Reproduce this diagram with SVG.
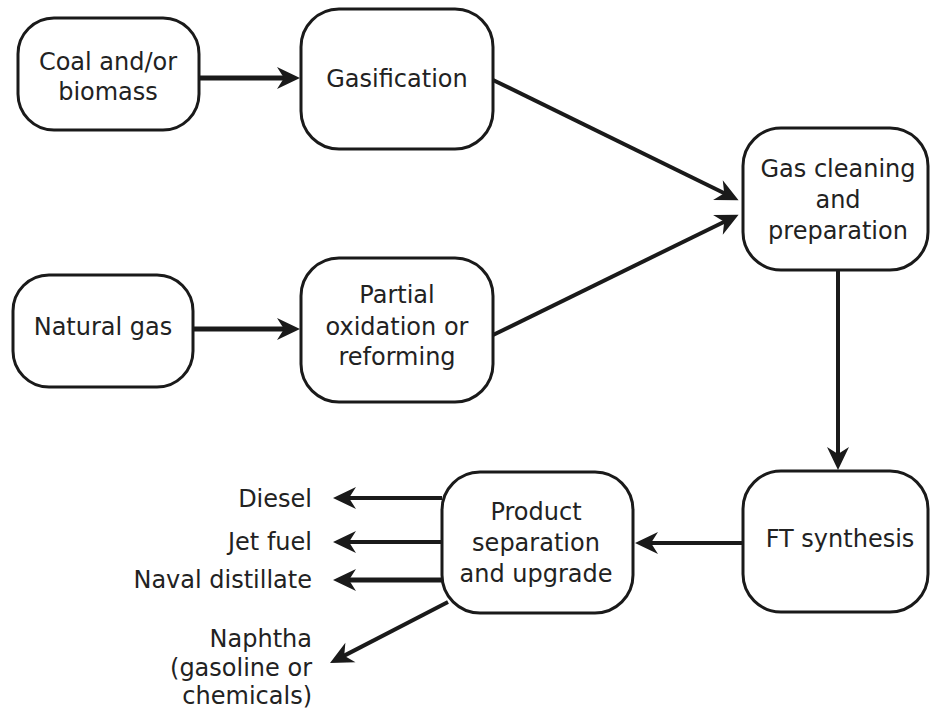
<svg xmlns="http://www.w3.org/2000/svg" width="930" height="715" viewBox="0 0 930 715">
<style>
.box{fill:#fff;stroke:#1a1a1a;stroke-width:3}
.t{font-family:"DejaVu Sans","Noto Sans",sans-serif;font-size:24px;fill:#222;text-anchor:middle}
.r{text-anchor:end}
.c{fill:none;stroke:#1a1a1a;stroke-width:4}
.thick{stroke-width:5}
</style>
<defs>
<marker id="ah" markerUnits="userSpaceOnUse" markerWidth="40" markerHeight="40" viewBox="-20 -15 40 30" refX="0" refY="0" orient="auto">
<path d="M9,0 L-14,-11 L-7,0 L-14,11 Z" fill="#1a1a1a"/>
</marker>
</defs>
<rect width="930" height="715" fill="#fff"/>
<g id="connectors">
<line class="c thick" x1="199" y1="78" x2="291" y2="78" marker-end="url(#ah)"/>
<line class="c thick" x1="193" y1="329" x2="291" y2="329" marker-end="url(#ah)"/>
<line class="c" x1="493" y1="80" x2="730.5" y2="196.3" marker-end="url(#ah)"/>
<line class="c" x1="493" y1="335" x2="730.5" y2="218.7" marker-end="url(#ah)"/>
<line class="c" x1="838" y1="270" x2="838" y2="461" marker-end="url(#ah)"/>
<line class="c" x1="743" y1="543" x2="644" y2="543" marker-end="url(#ah)"/>
<line class="c" x1="442" y1="498" x2="342" y2="498" marker-end="url(#ah)"/>
<line class="c" x1="442" y1="542" x2="342" y2="542" marker-end="url(#ah)"/>
<line class="c thick" x1="442" y1="580" x2="342" y2="580" marker-end="url(#ah)"/>
<line class="c" x1="448" y1="602" x2="338" y2="658.9" marker-end="url(#ah)"/>
</g>
<g id="coal">
<rect class="box" x="18" y="18" width="181" height="112" rx="36"/>
<text class="t" x="108" y="70">Coal and/or</text>
<text class="t" x="108" y="100">biomass</text>
</g>
<g id="gasification">
<rect class="box" x="301" y="9" width="192" height="140" rx="38"/>
<text class="t" x="397" y="87">Gasification</text>
</g>
<g id="natural-gas">
<rect class="box" x="13" y="275" width="180" height="112" rx="36"/>
<text class="t" x="103" y="335">Natural gas</text>
</g>
<g id="partial">
<rect class="box" x="301" y="258" width="192" height="144" rx="38"/>
<text class="t" x="397" y="303">Partial</text>
<text class="t" x="397" y="335">oxidation or</text>
<text class="t" x="397" y="365">reforming</text>
</g>
<g id="gas-cleaning">
<rect class="box" x="743" y="128" width="185" height="142" rx="38"/>
<text class="t" x="838" y="177">Gas cleaning</text>
<text class="t" x="838" y="208">and</text>
<text class="t" x="838" y="239">preparation</text>
</g>
<g id="ft">
<rect class="box" x="743" y="471" width="185" height="141" rx="38"/>
<text class="t" x="840" y="547">FT synthesis</text>
</g>
<g id="product">
<rect class="box" x="442" y="472" width="191" height="141" rx="38"/>
<text class="t" x="536" y="520">Product</text>
<text class="t" x="536" y="551">separation</text>
<text class="t" x="536" y="582">and upgrade</text>
</g>
<g id="outputs">
<text class="t r" x="312" y="507">Diesel</text>
<text class="t r" x="312" y="550">Jet fuel</text>
<text class="t r" x="312" y="588">Naval distillate</text>
<text class="t r" x="312" y="647">Naphtha</text>
<text class="t r" x="312" y="676">(gasoline or</text>
<text class="t r" x="312" y="704">chemicals)</text>
</g>
</svg>
